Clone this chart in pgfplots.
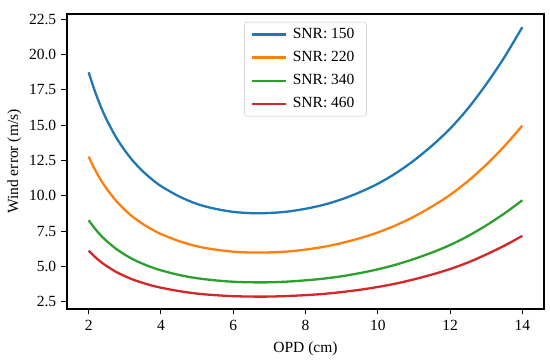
\documentclass[border=0pt]{standalone}
\usepackage{pgfplots}
\pgfplotsset{compat=1.18}
\usepackage{fontspec}
\setmainfont{Liberation Serif}
\definecolor{tabblue}{HTML}{1F77B4}
\definecolor{taborange}{HTML}{FF7F0E}
\definecolor{tabgreen}{HTML}{2CA02C}
\definecolor{tabred}{HTML}{D62728}
\newcommand{\chartfont}{\fontsize{15.5pt}{18pt}\selectfont}
\begin{document}
\chartfont
\begin{tikzpicture}
\useasboundingbox (-67pt,-52pt) rectangle (483pt,309pt);
\begin{axis}[
  at={(0pt,0pt)}, anchor=south west,
  scale only axis,
  width=477pt, height=295pt,
  xmin=1.4, xmax=14.6,
  ymin=1.98, ymax=22.88,
  xtick={2,4,6,8,10,12,14},
  ytick={2.5,5,7.5,10,12.5,15,17.5,20,22.5},
  yticklabel style={/pgf/number format/fixed,/pgf/number format/fixed zerofill,/pgf/number format/precision=1},
  /pgf/number format/assume math mode=true,
  tick align=outside,
  tick pos=left,
  major tick length=5.5pt,
  every tick/.style={black, line width=1pt},
  axis line style={line width=1.1pt},
  xlabel={OPD (cm)},
  ylabel={Wind error (m/s)},
  xlabel style={yshift=-1pt},
  ylabel style={yshift=-3pt},
  tick label style={font=\chartfont},
  label style={font=\chartfont},
  legend style={at={(0.5,0.973)}, anchor=north, draw=black!25, rounded corners=2.5pt,
    font=\chartfont, row sep=6.5pt, inner xsep=6pt, inner ysep=4pt,
    nodes={inner xsep=6pt}},
  legend cell align=left,
  legend image code/.code={\draw[#1, line width=2.3pt] (0pt,0pt) -- (34pt,0pt);},
  every axis plot/.append style={line width=2.3pt, smooth},
]
\addplot[tabblue] coordinates {
(2.0,18.75)(2.125,17.75)(2.25,16.87)(2.375,16.08)(2.5,15.38)(2.75,14.18)(3.0,13.21)(3.25,12.40)(3.5,11.73)(3.75,11.17)(4.0,10.69)(4.5,9.96)(5.0,9.42)(5.5,9.08)(6.0,8.86)(6.5,8.77)(7.0,8.78)(7.5,8.88)(8.0,9.08)(8.5,9.36)(9.0,9.75)(9.5,10.25)(10.0,10.85)(10.5,11.6)(11.0,12.5)(11.5,13.55)(12.0,14.75)(12.5,16.2)(13.0,17.9)(13.5,19.8)(14.0,21.95)};
\addlegendentry{SNR: 150}
\addplot[taborange] coordinates {
(2.0,12.78)(2.125,12.10)(2.25,11.50)(2.375,10.96)(2.5,10.49)(2.75,9.67)(3.0,9.01)(3.25,8.45)(3.5,8.00)(3.75,7.62)(4.0,7.29)(4.5,6.79)(5.0,6.42)(5.5,6.19)(6.0,6.04)(6.5,5.98)(7.0,5.99)(7.5,6.05)(8.0,6.19)(8.5,6.38)(9.0,6.65)(9.5,6.99)(10.0,7.40)(10.5,7.91)(11.0,8.52)(11.5,9.24)(12.0,10.06)(12.5,11.05)(13.0,12.20)(13.5,13.50)(14.0,14.97)};
\addlegendentry{SNR: 220}
\addplot[tabgreen] coordinates {
(2.0,8.27)(2.125,7.83)(2.25,7.44)(2.375,7.09)(2.5,6.79)(2.75,6.26)(3.0,5.83)(3.25,5.47)(3.5,5.18)(3.75,4.93)(4.0,4.72)(4.5,4.39)(5.0,4.16)(5.5,4.01)(6.0,3.91)(6.5,3.87)(7.0,3.87)(7.5,3.92)(8.0,4.01)(8.5,4.13)(9.0,4.30)(9.5,4.52)(10.0,4.79)(10.5,5.12)(11.0,5.52)(11.5,5.98)(12.0,6.51)(12.5,7.15)(13.0,7.90)(13.5,8.74)(14.0,9.68)};
\addlegendentry{SNR: 340}
\addplot[tabred] coordinates {
(2.0,6.11)(2.125,5.79)(2.25,5.50)(2.375,5.24)(2.5,5.02)(2.75,4.62)(3.0,4.31)(3.25,4.04)(3.5,3.83)(3.75,3.64)(4.0,3.49)(4.5,3.25)(5.0,3.07)(5.5,2.96)(6.0,2.89)(6.5,2.86)(7.0,2.86)(7.5,2.90)(8.0,2.96)(8.5,3.05)(9.0,3.18)(9.5,3.34)(10.0,3.54)(10.5,3.78)(11.0,4.08)(11.5,4.42)(12.0,4.81)(12.5,5.28)(13.0,5.84)(13.5,6.46)(14.0,7.16)};
\addlegendentry{SNR: 460}
\end{axis}
\end{tikzpicture}
\end{document}
